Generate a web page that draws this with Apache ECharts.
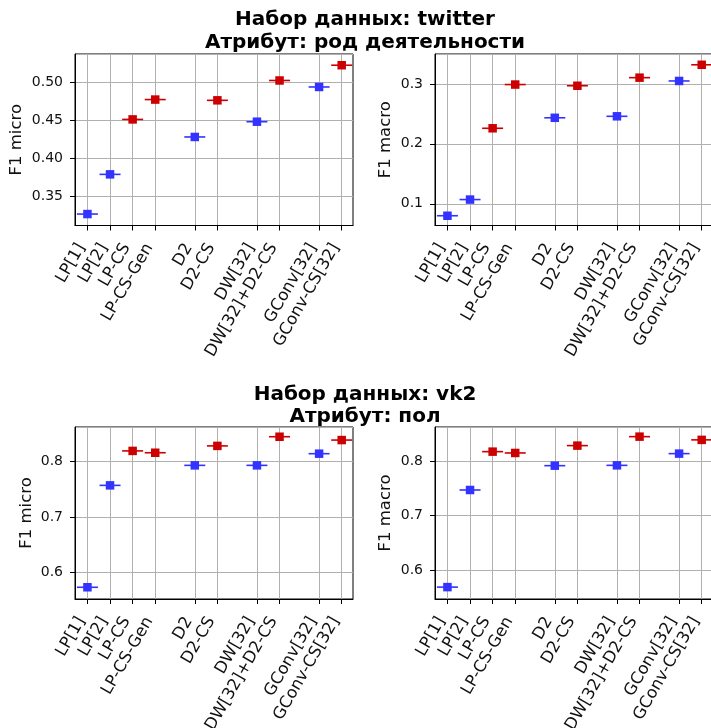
<!DOCTYPE html>
<html><head><meta charset="utf-8">
<script src="https://cdn.jsdelivr.net/npm/echarts@6/dist/echarts.min.js"></script>
<style>html,body{margin:0;padding:0;background:#fff}#c{width:711px;height:728px}</style>
</head><body><div id="c"></div>
<script>
// ---- data ----
const groups = [["LP[1]","LP[2]","LP-CS","LP-CS-Gen"],["D2","D2-CS"],["DW[32]","DW[32]+D2-CS"],["GConv[32]","GConv-CS[32]"]];
const labels = groups.flat();
const twitterMicro = [0.327, 0.379, 0.451, 0.477, 0.428, 0.476, 0.448, 0.502, 0.4935, 0.522];
const twitterMacro = [0.080, 0.107, 0.226, 0.299, 0.2435, 0.297, 0.246, 0.3105, 0.305, 0.332];
const vk2Micro = [0.5737, 0.757, 0.819, 0.8157, 0.793, 0.828, 0.793, 0.8445, 0.814, 0.8385];
const vk2Macro = [0.5697, 0.747, 0.817, 0.8146, 0.7914, 0.828, 0.792, 0.8444, 0.8134, 0.8385];
const titles = [["Набор данных: twitter","Атрибут: род деятельности"],["Набор данных: vk2","Атрибут: пол"]];

// ---- layout: slots on a fine category axis ----
const STEP = 0.05, PADL = 0.55, PADR = 0.5, GROUPGAP = 0.75;
const positions = [];
let p = 0;
groups.forEach((g, gi) => { if (gi > 0) p += GROUPGAP; g.forEach(() => { positions.push(p); p += 1; }); });
const lastPos = positions[positions.length - 1];
const nSlots = Math.round((lastPos + PADL + PADR) / STEP) + 1;
const slotIdx = positions.map(v => Math.round((v + PADL) / STEP));
const slots = [];
for (let i = 0; i < nSlots; i++) slots.push('_' + i);
slotIdx.forEach((s, k) => { slots[s] = labels[k]; });
const isLabel = (idx, val) => labels.indexOf(val) >= 0;

const BLUE = '#3333ff', RED = '#cc0000';
const colorOf = k => labels[k].indexOf('CS') >= 0 ? RED : BLUE;

const panels = [
  {left: 75, top: 54, h: 171.5, name: 'F1 micro', data: twitterMicro, min: 0.312, max: 0.5367, split: 5, gap: 50},
  {left: 435, top: 54, h: 171.5, name: 'F1 macro', data: twitterMacro, min: 0.0637, max: 0.350, split: 3, gap: 41},
  {left: 75, top: 427, h: 172, name: 'F1 micro', data: vk2Micro, min: 0.5526, max: 0.862, split: 3, gap: 40},
  {left: 435, top: 427, h: 172, name: 'F1 macro', data: vk2Macro, min: 0.548, max: 0.862, split: 3, gap: 41}
];
const FONT = '"DejaVu Sans", sans-serif';
const grid = [], xAxis = [], yAxis = [], series = [];
panels.forEach((pn, i) => {
  grid.push({left: pn.left, top: pn.top, width: 278, height: pn.h, show: true, borderColor: '#000', borderWidth: 1,
    containLabel: false, outerBoundsMode: 'none'});
  xAxis.push({
    type: 'category', gridIndex: i, data: slots, boundaryGap: false,
    axisLine: {show: true, lineStyle: {color: '#000', width: 1}},
    axisTick: {show: true, interval: isLabel, length: 5, lineStyle: {color: '#000'}},
    axisLabel: {interval: isLabel, rotate: 60, margin: 9, fontSize: 16.5, color: '#111', fontFamily: FONT,
      padding: [0, 12, 4, 0],
      formatter: v => labels.indexOf(v) >= 0 ? v : ''},
    splitLine: {show: true, interval: isLabel, lineStyle: {color: '#b0b0b0', width: 1}}
  });
  yAxis.push({
    type: 'value', gridIndex: i, min: pn.min, max: pn.max, splitNumber: pn.split,
    name: pn.name, nameLocation: 'middle', nameGap: pn.gap, nameRotate: 90,
    nameTextStyle: {fontSize: 16.5, color: '#111', fontFamily: FONT},
    axisLine: {show: true, lineStyle: {color: '#000', width: 1}},
    axisTick: {show: true, length: 5, lineStyle: {color: '#000'}},
    axisLabel: {showMinLabel: false, showMaxLabel: false, margin: 12, fontSize: 14, color: '#111', fontFamily: FONT,
      formatter: v => i === 0 ? v.toFixed(2) : v.toFixed(1)},
    splitLine: {show: true, lineStyle: {color: '#b0b0b0', width: 1}}
  });
  const pts = pn.data.map((v, k) => ({value: [slotIdx[k], v], itemStyle: {color: colorOf(k), opacity: 1}}));
  series.push({type: 'scatter', xAxisIndex: i, yAxisIndex: i, symbol: 'rect', symbolSize: [21, 1.6], data: pts, silent: true, z: 3, itemStyle: {opacity: 1}});
  series.push({type: 'scatter', xAxisIndex: i, yAxisIndex: i, symbol: 'rect', symbolSize: 8.5, data: pts, silent: true, z: 4, itemStyle: {opacity: 1}});
});

const graphic = [];
const tY = [[20, 43], [395, 417]];
titles.forEach((t, r) => t.forEach((line, j) => graphic.push({
  type: 'text', x: 365, y: tY[r][j],
  style: {text: line, textAlign: 'center', textVerticalAlign: 'middle', fill: '#000', font: 'bold 20px ' + FONT}
})));

const chart = echarts.init(document.getElementById('c'), null, {renderer: 'canvas'});
chart.setOption({animation: false, backgroundColor: '#fff', grid, xAxis, yAxis, series, graphic});
</script></body></html>
